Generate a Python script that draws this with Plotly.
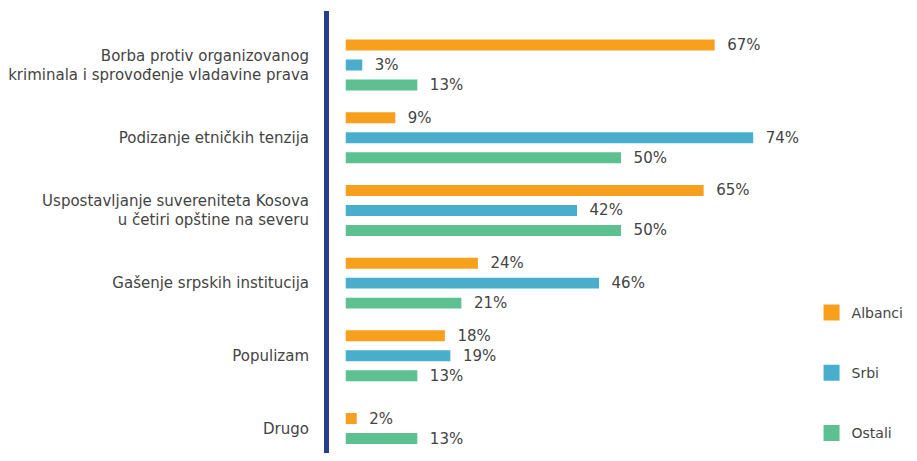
import plotly.graph_objects as go

CATEGORIES = ['Borba protiv organizovanog<br>kriminala i sprovođenje vladavine prava',
              'Podizanje etničkih tenzija',
              'Uspostavljanje suvereniteta Kosova<br>u četiri opštine na severu',
              'Gašenje srpskih institucija',
              'Populizam',
              'Drugo']

ALBANCI = [67, 9, 65, 24, 18, 2]
SRBI = [3, 74, 42, 46, 19, None]
OSTALI = [13, 50, 50, 21, 13, 13]

SERIES = [('Albanci', ALBANCI, '#F7A01D'),
          ('Srbi', SRBI, '#48AECB'),
          ('Ostali', OSTALI, '#5CC091')]

FONT = 'DejaVu Sans'
TEXT_COLOR = '#444444'

BAR_W = 0.151   # bar thickness in category units
SLOT = 0.275    # distance between bars inside one group

# bars of a group are centred on the category, skipping empty series
offsets = {name: [] for name, _, _ in SERIES}
for i in range(len(CATEGORIES)):
    present = [name for name, vals, _ in SERIES if vals[i] is not None]
    n = len(present)
    for name, vals, _ in SERIES:
        if name in present:
            k = present.index(name)
            offsets[name].append((k - (n - 1) / 2) * SLOT - BAR_W / 2)
        else:
            offsets[name].append(0)

fig = go.Figure()
for name, values, color in SERIES:
    fig.add_trace(go.Bar(y=list(range(len(CATEGORIES))), x=values, name=name, orientation='h',
                         width=BAR_W, offset=offsets[name],
                         marker=dict(color=color, line=dict(width=0)),
                         texttemplate='  %{x}%', textposition='outside', constraintext='none',
                         textfont=dict(size=15, color=TEXT_COLOR, family=FONT),
                         cliponaxis=False, showlegend=False))
    # legend entry with a bigger square
    fig.add_trace(go.Scatter(x=[None], y=[None], mode='markers', name=name,
                             marker=dict(symbol='square', size=16, color=color),
                             legendgroup=name))

# page body has an 8px margin, keep the figure inside the window (no scrollbars)
fig.update_layout(width=909, height=445,
                  margin=dict(l=321, r=97, t=3, b=0),
                  plot_bgcolor='white', paper_bgcolor='white',
                  barmode='overlay',
                  font=dict(family=FONT, size=15, color=TEXT_COLOR),
                  showlegend=True,
                  legend=dict(x=0.884, y=0.3506, xanchor='left', yanchor='top',
                              xref='container', yref='container',
                              tracegroupgap=39, itemwidth=30,
                              font=dict(size=14, color=TEXT_COLOR, family=FONT)))

fig.update_xaxes(range=[-3.04, 84.6], showgrid=False, zeroline=False,
                 showticklabels=False, showline=False)
fig.update_yaxes(range=[5.337, -0.744], tickvals=list(range(len(CATEGORIES))),
                 ticktext=CATEGORIES, showgrid=False, zeroline=False,
                 showline=True, linecolor='#253E8E', linewidth=5,
                 ticks='', ticklabelstandoff=12, automargin=False,
                 tickfont=dict(size=15, color=TEXT_COLOR, family=FONT))

fig.write_html("out.html")
